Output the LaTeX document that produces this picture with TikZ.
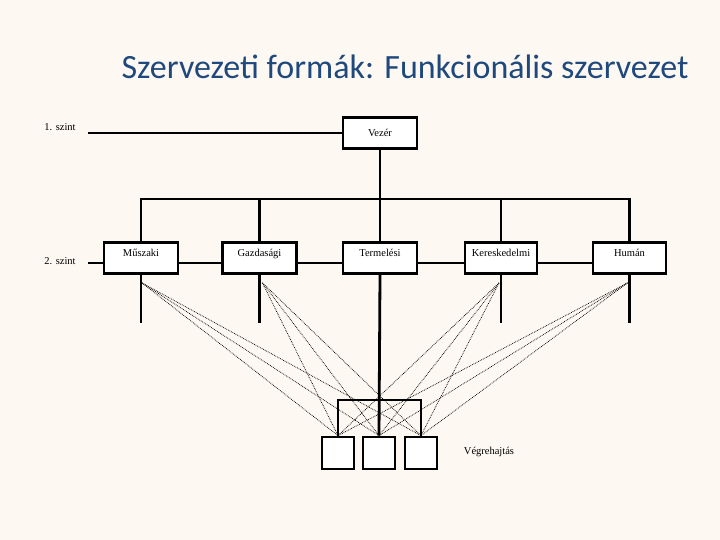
\documentclass[tikz,border=0pt]{standalone}
\usepackage{fontspec}
\setmainfont{Liberation Serif}
\newfontfamily\titlefont{Carlito}
\usetikzlibrary{positioning}
\definecolor{bgcream}{HTML}{FDF8F2}
\definecolor{titleblue}{HTML}{1F497D}

\begin{document}
\begin{tikzpicture}[x=1pt, y=-1pt,
    unit/.style={draw, line width=2.8pt, fill=white, minimum width=74pt, minimum height=31pt, inner sep=2pt, font=\fontsize{10.5}{12}\selectfont},
    topunit/.style={unit, text height=11pt, text depth=15pt},
    exec/.style={draw, line width=2.8pt, fill=white, minimum size=32pt, inner sep=0pt},
    link/.style={line width=2.8pt},
    thinlink/.style={line width=2pt},
    fan/.style={densely dotted, line width=0.75pt},
    lbl/.style={font=\fontsize{10.5}{12}\selectfont}]
    \fill[bgcream] (0,0) rectangle (720,540);
    \useasboundingbox (0,0) rectangle (720,540);
    \node[font=\titlefont\fontsize{34}{40}\selectfont, text=titleblue] (title) at (405,67) {Szervezeti formák: Funkcionális szervezet};
    % Szintek
    \node[lbl] (sz1) at (60,127) {1. szint};
    \node[lbl] (sz2) at (60,261) {2. szint};
    \coordinate (l1) at (88,133);
    \coordinate (l2) at (88,263);
    \coordinate (busL) at (140,199);
    \coordinate (busR) at (631,199);
    % Vezér es funkciok
    \node[unit] (vezer) at (380,133) {Vezér};
    \node[topunit] (muszaki) at (141,258) {Műszaki};
    \node[topunit] (gazdasagi) at (259.5,258) {Gazdasági};
    \node[topunit] (termelesi) at (380,258) {Termelési};
    \node[topunit, minimum width=72pt] (keresk) at (501,258) {Kereskedelmi};
    \node[topunit, minimum width=73pt] (human) at (629.5,258) {Humán};
    % Vegrehajtas
    \node[exec] (v1) at (338,453) {};
    \node[exec] (v2) at (379,453) {};
    \node[exec] (v3) at (421,453) {};
    \node[lbl] (vlbl) at (489,452) {Végrehajtás};
    % Vonalak
    \draw[link] (l1) -- (vezer.west);
    \draw[link] (vezer.south) -- (termelesi.north);
    \draw[link] (busL) -- (busR);
    \foreach \b in {muszaki, gazdasagi, keresk, human}
        \draw[link] (\b.north |- busL) -- (\b.north);
    \draw[link] (l2) -- ([yshift=-5pt]muszaki.west);
    \draw[link] ([yshift=-5pt]muszaki.east) -- ([yshift=-5pt]gazdasagi.west);
    \draw[link] ([yshift=-5pt]gazdasagi.east) -- ([yshift=-5pt]termelesi.west);
    \draw[link] ([yshift=-5pt]termelesi.east) -- ([yshift=-5pt]keresk.west);
    \draw[link] ([yshift=-5pt]keresk.east) -- ([yshift=-5pt]human.west);
    \foreach \b in {muszaki, gazdasagi, keresk, human}
        \draw[link] (\b.south) -- ++(0,48);
    \draw[link] (termelesi.south) -- (v2.north);
    \draw[thinlink] (v1.north) -- ++(0,-36) -| (v3.north);
    % Pontozott kapcsolatok
    \foreach \b/\dx in {muszaki/1, gazdasagi/3, keresk/-2, human/-2}
        \foreach \v in {v1, v2, v3}
            \draw[fan] ([shift={(\dx,8)}]\b.south) -- (\v.north);
\end{tikzpicture}
\end{document}
